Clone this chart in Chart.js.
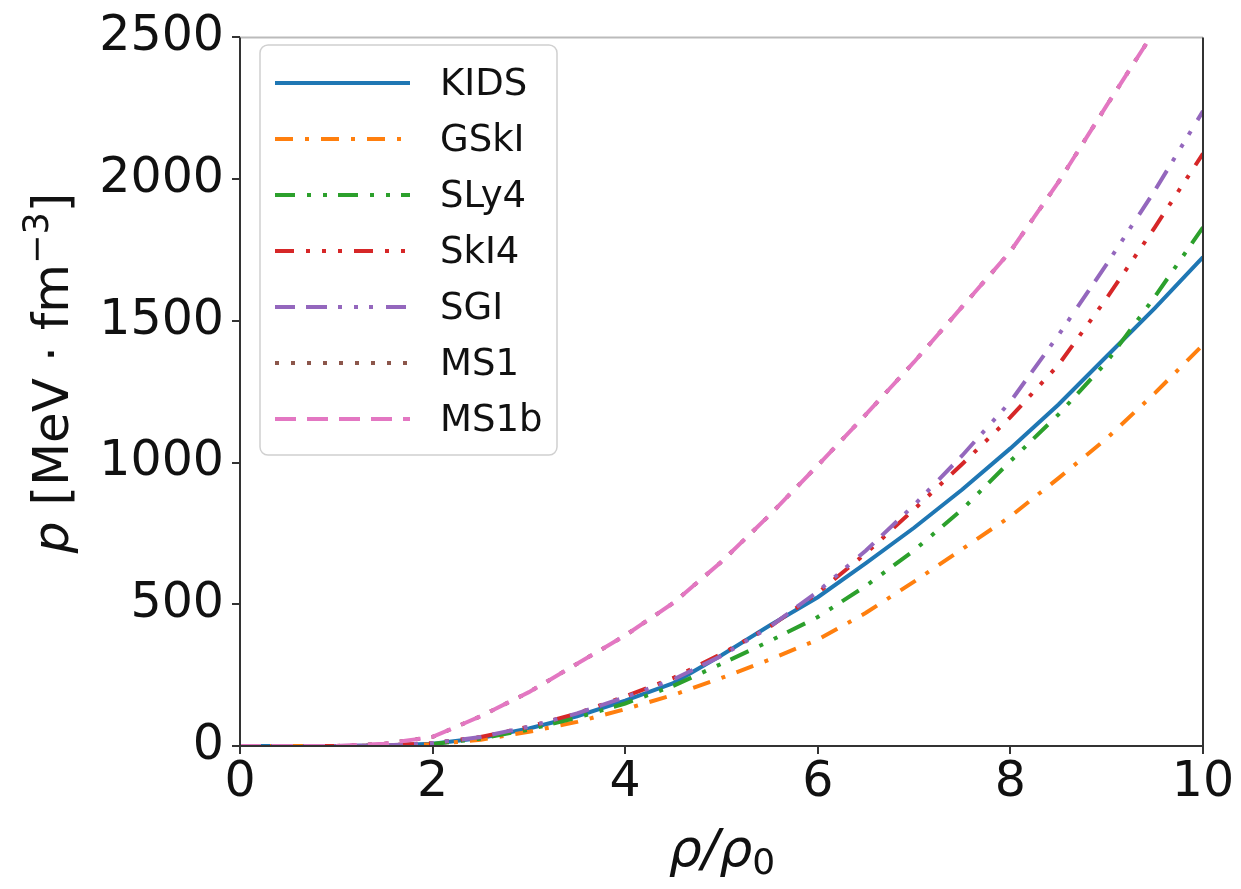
<!DOCTYPE html>
<html>
<head>
<meta charset="utf-8">
<script src="https://cdn.jsdelivr.net/npm/chart.js@4.4.1/dist/chart.umd.min.js"></script>
<style>
  html, body { margin: 0; padding: 0; background: #fff; }
  #wrap { width: 1241px; height: 889px; position: relative; }
</style>
</head>
<body>
<div id="wrap"><canvas id="eosChart"></canvas></div>
<script>
// density rho/rho0
const rho = [0, 0.5, 1, 1.5, 2, 2.5, 3, 3.5, 4, 4.5, 5, 5.5, 6, 6.5, 7, 7.5, 8, 8.5, 9, 9.5, 10];

// pressure [MeV fm^-3]
const kids = [0, 0, 0, 2, 8, 28, 62, 105, 160, 222, 320, 425, 525, 645, 770, 905, 1050, 1205, 1375, 1545, 1725];
const gski = [0, 0, 0, 1, 6, 22, 50, 85, 130, 180, 240, 305, 375, 470, 580, 695, 810, 945, 1085, 1245, 1415];
const sly4 = [0, 0, 0, 1, 7, 26, 58, 100, 150, 212, 290, 370, 455, 565, 690, 835, 1005, 1170, 1355, 1585, 1830];
const ski4 = [0, 0, 0, 2, 10, 32, 68, 115, 175, 240, 325, 420, 540, 680, 835, 995, 1160, 1345, 1580, 1830, 2090];
const sgi  = [0, 0, 0, 2, 10, 32, 68, 115, 172, 235, 318, 420, 545, 690, 850, 1025, 1215, 1450, 1700, 1960, 2240];
const ms1  = [0, 0, 0, 8, 32, 105, 190, 290, 390, 505, 650, 815, 990, 1170, 1355, 1550, 1745, 1990, 2260, 2525, 2800];
const ms1b = [0, 0, 0, 8, 32, 105, 190, 290, 390, 505, 650, 815, 990, 1170, 1355, 1550, 1745, 1990, 2260, 2525, 2800];

const seriesNames = ['KIDS', 'GSkI', 'SLy4', 'SkI4', 'SGI', 'MS1', 'MS1b'];
const seriesValues = [kids, gski, sly4, ski4, sgi, ms1, ms1b];
const seriesColors = ['#1f77b4', '#ff7f0e', '#2ca02c', '#d62728', '#9467bd', '#8c564b', '#e377c2'];
const seriesDashes = [
    [],
    [18, 12, 4, 12],
    [20, 12, 4, 12, 4, 11],
    [19, 12, 4, 12, 4, 12, 4, 12],
    [20, 11, 21, 11, 4, 12, 4, 11, 4, 13],
    [4, 12],
    [21, 11]
];

const xTicks = [0, 2, 4, 6, 8, 10];
const yTicks = [0, 500, 1000, 1500, 2000, 2500];

const FONT = "'DejaVu Sans', sans-serif";
Chart.defaults.font.family = FONT;
Chart.defaults.color = '#111';

const datasets = seriesNames.map((name, i) => ({
    label: name,
    data: rho.map((r, j) => ({ x: r, y: seriesValues[i][j] })),
    borderColor: seriesColors[i],
    backgroundColor: seriesColors[i],
    borderWidth: 4,
    borderDash: seriesDashes[i],
    pointRadius: 0,
    tension: 0,
    fill: false,
    // matplotlib draws later lines on top
    order: seriesNames.length - i
}));

// axes frame
const framePlugin = {
    id: 'frame',
    afterDraw(chart) {
        const { ctx, chartArea: a } = chart;
        ctx.save();
        ctx.lineWidth = 2;
        ctx.strokeStyle = '#bbb';
        ctx.beginPath();
        ctx.moveTo(a.left, a.top);
        ctx.lineTo(a.right, a.top);
        ctx.stroke();
        ctx.strokeStyle = '#333';
        ctx.beginPath();
        ctx.moveTo(a.right, a.top);
        ctx.lineTo(a.right, a.bottom);
        ctx.lineTo(a.left, a.bottom);
        ctx.lineTo(a.left, a.top);
        ctx.stroke();
        ctx.restore();
    }
};

// draw a run of [text, font, dy] pieces starting at x
function drawPieces(ctx, pieces, x, y) {
    pieces.forEach(p => {
        ctx.font = p[1];
        ctx.fillText(p[0], x, y + p[2]);
        x += ctx.measureText(p[0]).width;
    });
}
function piecesWidth(ctx, pieces) {
    let w = 0;
    pieces.forEach(p => { ctx.font = p[1]; w += ctx.measureText(p[0]).width; });
    return w;
}

// axis titles with mathtext-like mixed styles
const titlesPlugin = {
    id: 'axisTitles',
    afterDraw(chart) {
        const ctx = chart.ctx;
        ctx.save();
        ctx.fillStyle = '#111';
        ctx.textBaseline = 'alphabetic';
        ctx.textAlign = 'left';

        const xPieces = [
            ['ρ', 'italic 52px ' + FONT, 0],
            ['/', 'italic 52px ' + FONT, 0],
            ['ρ', 'italic 52px ' + FONT, 0],
            ['0', '36px ' + FONT, 8]
        ];
        const xw = piecesWidth(ctx, xPieces);
        drawPieces(ctx, xPieces, 722 - xw / 2, 866);

        const yPieces = [
            ['p', 'italic 50px ' + FONT, 0],
            [' [MeV · fm', '50px ' + FONT, 0],
            ['−3', '35px ' + FONT, -20],
            [']', '50px ' + FONT, 0]
        ];
        const yw = piecesWidth(ctx, yPieces);
        ctx.translate(68, 373);
        ctx.rotate(-Math.PI / 2);
        drawPieces(ctx, yPieces, -yw / 2, 0);
        ctx.restore();
    }
};

// matplotlib style legend in the upper left
const legendPlugin = {
    id: 'mplLegend',
    afterDatasetsDraw(chart) {
        const ctx = chart.ctx;
        const x0 = 260, y0 = 45, w = 297, h = 410, r = 8;
        ctx.save();
        ctx.beginPath();
        ctx.roundRect(x0, y0, w, h, r);
        ctx.fillStyle = 'rgba(255,255,255,0.85)';
        ctx.fill();
        ctx.lineWidth = 1.5;
        ctx.strokeStyle = '#d0d0d0';
        ctx.stroke();

        ctx.font = '37px ' + FONT;
        ctx.textBaseline = 'middle';
        ctx.textAlign = 'left';
        seriesNames.forEach((name, i) => {
            const y = 83 + i * 56;
            ctx.beginPath();
            ctx.setLineDash(seriesDashes[i]);
            ctx.lineWidth = 4;
            ctx.strokeStyle = seriesColors[i];
            ctx.moveTo(275, y);
            ctx.lineTo(410, y);
            ctx.stroke();
            ctx.setLineDash([]);
            ctx.fillStyle = '#111';
            ctx.fillText(name, 440, y + 2);
        });
        ctx.restore();
    }
};

new Chart(document.getElementById('eosChart'), {
    type: 'line',
    data: { datasets: datasets },
    options: {
        responsive: true,
        maintainAspectRatio: false,
        animation: false,
        layout: { padding: { left: 0, top: 33, right: 38, bottom: 0 } },
        plugins: {
            legend: { display: false },
            tooltip: { enabled: false }
        },
        scales: {
            x: {
                type: 'linear',
                min: 0,
                max: 10,
                afterBuildTicks: (scale) => { scale.ticks = xTicks.map(v => ({ value: v })); },
                afterFit: (scale) => { scale.height = 143; },
                grid: { drawOnChartArea: false, drawTicks: true, tickLength: 8, color: '#333', lineWidth: 2 },
                border: { display: false },
                ticks: { font: { size: 49 }, padding: 0, color: '#111', maxRotation: 0, callback: v => String(v) }
            },
            y: {
                type: 'linear',
                min: 0,
                max: 2500,
                afterBuildTicks: (scale) => { scale.ticks = yTicks.map(v => ({ value: v })); },
                afterFit: (scale) => { scale.width = 240; },
                grid: { drawOnChartArea: false, drawTicks: true, tickLength: 8, color: '#333', lineWidth: 2 },
                border: { display: false },
                ticks: { font: { size: 49 }, padding: 8, color: '#111', callback: v => String(v) }
            }
        }
    },
    plugins: [framePlugin, titlesPlugin, legendPlugin]
});
</script>
</body>
</html>
